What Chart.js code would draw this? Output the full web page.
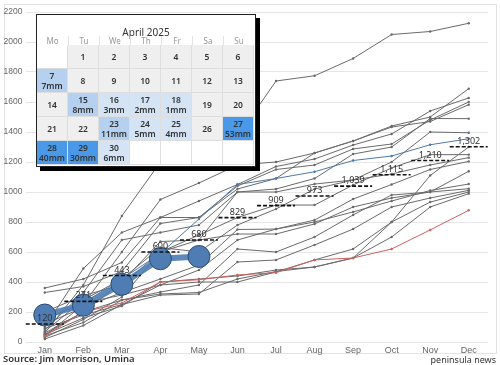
<!DOCTYPE html>
<html>
<head>
<meta charset="utf-8">
<script src="https://cdn.jsdelivr.net/npm/chart.js@4.4.1/dist/chart.umd.min.js"></script>
<style>
  html, body { margin: 0; padding: 0; background: #fff; }
  #wrap { position: relative; width: 500px; height: 365px; font-family: "Noto Sans", Arial, sans-serif; }
  #chart { position: absolute; left: 0; top: 0; }
  #cal { position: absolute; left: 36px; top: 14px; width: 218px; height: 151px; background: #fff;
         border: 1px solid #222; box-shadow: 4px 4px 0 #000; }
  #cal .title { position: absolute; left: 0; width: 218px; top: 10px; text-align: center; font-size: 10px; color: #333; }
  #cal .hd { position: absolute; top: 21px; height: 10px; width: 31px; text-align: center; font-size: 8px; color: #999;
             line-height: 10px; border-left: 1px solid #e4e4e4; box-sizing: border-box; }
  #cal .cell { position: absolute; width: 31px; height: 24px; box-sizing: border-box; border-right: 1px solid #dedede;
               border-bottom: 1px solid #dedede; text-align: center; font-size: 8.5px; font-weight: 600; color: #333;
               line-height: 10px; display: flex; flex-direction: column; justify-content: center; }
</style>
</head>
<body>
<div id="wrap">
  <canvas id="chart" width="500" height="365"></canvas>
  <div id="cal"></div>
</div>
<script>
const months = ["Jan", "Feb", "Mar", "Apr", "May", "Jun", "Jul", "Aug", "Sep", "Oct", "Nov", "Dec"];

// monthly cumulative rainfall (mm), past years in grey
const pastYears = [
  [60, 380, 840, 1200, 1290, 1370, 1740, 1775, 1890, 2050, 2070, 2125],
  [40, 250, 600, 950, 1060, 1180, 1200, 1260, 1340, 1440, 1500, 1689],
  [360, 420, 530, 830, 940, 1050, 1170, 1220, 1313, 1387, 1540, 1627],
  [330, 370, 470, 790, 830, 1040, 1150, 1180, 1287, 1320, 1480, 1600],
  [100, 490, 730, 830, 830, 1020, 1090, 1260, 1340, 1433, 1470, 1582],
  [80, 330, 680, 730, 780, 1000, 1020, 1090, 1253, 1300, 1490, 1489],
  [50, 200, 400, 670, 680, 1000, 1000, 1053, 1080, 1200, 1400, 1395],
  [30, 150, 300, 600, 713, 830, 913, 913, 1047, 1160, 1249, 1249],
  [70, 280, 420, 630, 600, 780, 887, 1020, 1080, 1120, 1180, 1229],
  [120, 230, 330, 420, 513, 750, 753, 813, 953, 1050, 1150, 1204],
  [200, 310, 380, 600, 680, 720, 720, 787, 900, 960, 1000, 1138],
  [150, 260, 313, 380, 480, 680, 753, 800, 867, 940, 1010, 1053],
  [60, 200, 280, 333, 380, 620, 600, 700, 847, 980, 1000, 1022],
  [90, 180, 250, 313, 320, 533, 547, 647, 753, 900, 960, 1011],
  [40, 130, 280, 320, 330, 420, 470, 500, 560, 800, 1110, 1300],
  [50, 160, 240, 400, 420, 440, 480, 500, 560, 700, 900, 989],
  [20, 110, 250, 380, 400, 400, 467, 547, 620, 800, 933, 1000]
];
const redYear = [40, 200, 260, 400, 415, 447, 462, 547, 560, 620, 747, 878];
const blueYear = [150, 260, 420, 590, 820, 1050, 1090, 1135, 1210, 1240, 1315, 1355];
const thisYear = [180, 245, 385, 555, 570];
const averages = [120, 271, 443, 600, 680, 829, 909, 973, 1039, 1115, 1210, 1302];

// April 2025 calendar
const calTitle = "April 2025";
const weekDays = ["Mo", "Tu", "We", "Th", "Fr", "Sa", "Su"];
const rainDays = [7, 15, 16, 17, 18, 23, 24, 25, 27, 28, 29, 30];
const rainMm = [7, 8, 3, 2, 1, 11, 5, 4, 53, 40, 30, 6];

function buildCalendar() {
  const cal = document.getElementById("cal");
  let html = `<div class="title">${calTitle}</div>`;
  weekDays.forEach((d, i) => {
    html += `<div class="hd" style="left:${i * 31}px;${i == 0 ? "border-left:none" : ""}">${d}</div>`;
  });
  const firstCol = 1; // 1 April 2025 is a Tuesday
  for (let slot = 0; slot < 35; slot++) {
    const day = slot - firstCol + 1;
    const col = slot % 7, row = Math.floor(slot / 7);
    let bg = "#fff", txt = "";
    if (day >= 1 && day <= 30) {
      bg = "#efefef";
      txt = day;
      const k = rainDays.indexOf(day);
      if (k >= 0) {
        const mm = rainMm[k];
        bg = mm >= 20 ? "#4a99e8" : mm >= 7 ? "#b6d1ef" : "#d5e4f5";
        txt = `${day}<br>${mm}mm`;
      }
    }
    html += `<div class="cell" style="left:${col * 31}px;top:${30 + row * 24}px;background:${bg}"><div>${txt}</div></div>`;
  }
  cal.innerHTML = html;
}
buildCalendar();

const averagePlugin = {
  id: "averages",
  beforeDraw(chart) {
    const c = chart.ctx;
    c.save();
    c.strokeStyle = "#e3e3e3";
    c.lineWidth = 1;
    c.strokeRect(4.5, 4.5, 492, 349);
    c.restore();
  },
  afterDatasetsDraw(chart) {
    const c = chart.ctx, x = chart.scales.x, y = chart.scales.y;
    c.save();
    averages.forEach((v, i) => {
      const px = x.getPixelForValue(i), py = y.getPixelForValue(v);
      c.strokeStyle = "#111";
      c.lineWidth = 1.6;
      c.setLineDash([4, 2]);
      c.beginPath();
      c.moveTo(px - 19, py);
      c.lineTo(px + 19, py);
      c.stroke();
      c.setLineDash([]);
      c.fillStyle = "#333";
      c.font = "9px 'Noto Sans', Arial, sans-serif";
      c.textAlign = "center";
      c.textBaseline = "bottom";
      c.fillText(v.toLocaleString("en-US"), px, py - 1);
    });
    c.font = "600 9.5px 'Noto Sans', Arial, sans-serif";
    c.fillStyle = "#333";
    c.textBaseline = "middle";
    c.textAlign = "left";
    c.fillText("Source: Jim Morrison, Umina", 3, 359);
    c.textAlign = "right";
    c.font = "9px 'Noto Sans', Arial, sans-serif";
    c.fillText("peninsula news", 496, 360);
    c.restore();
  }
};

const datasets = [];
datasets.push({
  data: thisYear,
  borderColor: "rgba(78,124,178,0.9)",
  borderWidth: 6,
  pointRadius: 11,
  pointBackgroundColor: "#4f7db3",
  pointBorderColor: "#2c4c78",
  pointBorderWidth: 1,
  order: 0
});
datasets.push({
  data: blueYear, borderColor: "#4e79a7", borderWidth: 1, pointRadius: 1.2,
  pointBackgroundColor: "#4e79a7", pointBorderWidth: 0, order: 1
});
datasets.push({
  data: redYear, borderColor: "#d0605e", borderWidth: 1, pointRadius: 1.2,
  pointBackgroundColor: "#d0605e", pointBorderWidth: 0, order: 2
});
pastYears.forEach(vals => {
  datasets.push({
    data: vals, borderColor: "#6a6a6a", borderWidth: 1, pointRadius: 1.2,
    pointBackgroundColor: "#6a6a6a", pointBorderWidth: 0, order: 3
  });
});

new Chart(document.getElementById("chart").getContext("2d"), {
  type: "line",
  data: { labels: months, datasets: datasets },
  options: {
    responsive: false,
    animation: false,
    tension: 0,
    layout: { padding: { top: 10, right: 6.5, bottom: 0, left: 0 } },
    plugins: { legend: { display: false }, tooltip: { enabled: false } },
    scales: {
      x: {
        offset: true,
        grid: { display: false, drawTicks: false },
        border: { display: false },
        ticks: { color: "#666", font: { size: 9 }, maxRotation: 0, autoSkip: false, padding: 3 },
        afterFit(s) { s.height = 23; }
      },
      y: {
        min: 0, max: 2200,
        grid: { color: "#e6e6e6", drawTicks: false },
        border: { display: false },
        ticks: { stepSize: 200, color: "#666", font: { size: 8.5 }, padding: 3, callback: v => String(v) },
        afterFit(s) { s.width = 25.5; s.paddingTop = 0; s.paddingBottom = 0; }
      }
    }
  },
  plugins: [averagePlugin]
});
</script>
</body>
</html>
